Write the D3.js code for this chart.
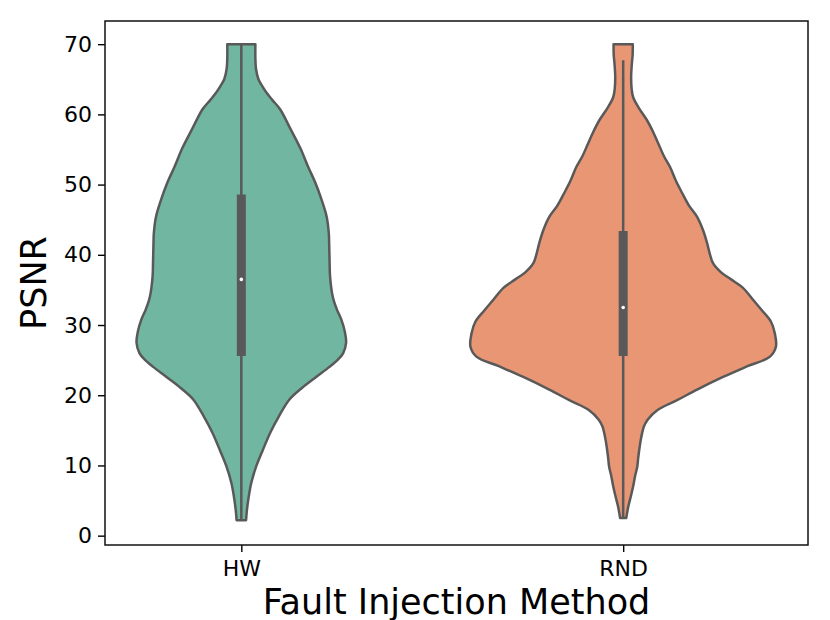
<!DOCTYPE html>
<html lang="en">
<head>
<meta charset="UTF-8">
<title>PSNR violin</title>
<script src="https://d3js.org/d3.v7.min.js"></script>
<style>
  body { margin: 0; background: #fff; }
  svg text { font-family: "DejaVu Sans", sans-serif; fill: #000; }
  .tick line { stroke: #000; stroke-width: 1.4; }
</style>
</head>
<body>
<div id="chart"></div>
<script>
// categories and colours
var methods = ["HW", "RND"];
var fills = ["#71b6a1", "#e99675"];
var yTicks = [0, 10, 20, 30, 40, 50, 60, 70];

// density outline (PSNR level, relative density)
var hwPsnr = [2.2, 3.5, 5.2, 7.5, 9.9, 12, 14.7, 17, 19.4, 21, 22.6, 24, 25.1, 26, 27.5, 29, 30.7, 32.2, 34, 36.9,
              39, 41.7, 43, 45.4, 48, 50.3, 52.5, 55.2, 58, 60.7, 62, 63, 64, 65, 66.5, 68, 70];
var hwDens = [3.1, 3.6, 4.6, 6.5, 9.8, 13.7, 19, 24.6, 31.5, 39.5, 49, 57.5, 63.4, 66.7, 68.6, 67.8, 65.6, 62.6, 59.9, 58.1,
              57.8, 57.5, 57.3, 55.9, 52.3, 48.4, 43.8, 38.6, 32, 25.5, 20.5, 16.8, 13.8, 11.2, 9.6, 9.2, 9.2];

var rndPsnr = [2.5, 4.1, 5.5, 7, 8.5, 9.8, 11, 12.2, 13.5, 14.6, 15.5, 16.5, 17.9, 19.3, 20.8, 22.6, 24.1, 25.5, 26.9, 28.8,
               30.5, 32.1, 33.6, 35.3, 36.5, 37.5, 38.8, 40, 41.7, 43.5, 45.4, 47, 48.8, 50.5, 52.5, 54, 55.9, 57.5, 59.2, 61,
               62.4, 63.5, 65.3, 67, 68.5, 70];
var rndDens = [2, 3.3, 4.9, 6.5, 7.8, 9.2, 9.8, 10.5, 11.4, 12.4, 13.5, 16, 22.5, 35.3, 48.4, 65.4, 81, 96.1, 100, 99.3,
               96.7, 90.8, 85, 78.4, 70.6, 64.1, 58.8, 56.9, 54.9, 52.3, 48.4, 43.1, 38.6, 34.6, 30.7, 26.8, 22.9, 19.6, 15.5, 10,
               6.6, 5.6, 5.2, 5.6, 6.2, 6.3];

// box plot stats: [whisker low, q1, median, q3, whisker high]
var hwBox = [2.2, 25.6, 36.5, 48.6, 70];
var rndBox = [2.5, 25.6, 32.5, 43.4, 67.7];

var width = 830, height = 620;
var margin = {top: 21, right: 22, bottom: 75, left: 105};
var plotW = width - margin.left - margin.right;
var plotH = height - margin.top - margin.bottom;

var svg = d3.select("#chart").append("svg")
    .attr("width", width)
    .attr("height", height);
var g = svg.append("g").attr("transform", "translate(" + margin.left + "," + margin.top + ")");

var x = d3.scaleLinear().domain([-0.357, 1.484]).range([0, plotW]);
var y = d3.scaleLinear().domain([-1.33, 73.3]).range([plotH, 0]);
var halfW = d3.scaleLinear().domain([0, 100]).range([0, 0.4]);

var violins = [
    {name: methods[0], pos: 0, psnr: hwPsnr, dens: hwDens, box: hwBox, fill: fills[0]},
    {name: methods[1], pos: 1, psnr: rndPsnr, dens: rndDens, box: rndBox, fill: fills[1]}
];

var lineColor = "#595959";

violins.forEach(function(v) {
    var pts = v.psnr.map(function(p, i) { return {p: p, d: v.dens[i]}; });
    var area = d3.area()
        .y(function(d) { return y(d.p); })
        .x0(function(d) { return x(v.pos - halfW(d.d)); })
        .x1(function(d) { return x(v.pos + halfW(d.d)); })
        .curve(d3.curveCatmullRom);

    g.append("path")
        .datum(pts)
        .attr("d", area)
        .attr("fill", v.fill)
        .attr("stroke", lineColor)
        .attr("stroke-width", 2.5)
        .attr("stroke-linejoin", "round");

    var cx = x(v.pos);
    // whisker
    g.append("line")
        .attr("x1", cx).attr("x2", cx)
        .attr("y1", y(v.box[0])).attr("y2", y(v.box[4]))
        .attr("stroke", lineColor)
        .attr("stroke-width", 2.5);
    // box
    g.append("line")
        .attr("x1", cx).attr("x2", cx)
        .attr("y1", y(v.box[1])).attr("y2", y(v.box[3]))
        .attr("stroke", lineColor)
        .attr("stroke-width", 9);
    // median
    g.append("circle")
        .attr("cx", cx).attr("cy", y(v.box[2]))
        .attr("r", 1.8)
        .attr("fill", "#fff");
});

// axes
var yAxis = g.append("g")
    .call(d3.axisLeft(y).tickValues(yTicks).tickSize(7).tickPadding(6));
yAxis.select(".domain").remove();
yAxis.selectAll("text").style("font-size", "22px");

var xAxis = g.append("g")
    .attr("transform", "translate(0," + plotH + ")")
    .call(d3.axisBottom(x).tickValues([0, 1]).tickFormat(function(d) { return methods[d]; })
        .tickSize(7).tickPadding(8));
xAxis.select(".domain").remove();
xAxis.selectAll("text").style("font-size", "22px");

// frame
g.append("rect")
    .attr("width", plotW).attr("height", plotH)
    .attr("fill", "none")
    .attr("stroke", "#111")
    .attr("stroke-width", 1.5);

// axis labels
svg.append("text")
    .attr("x", margin.left + plotW / 2)
    .attr("y", 614)
    .attr("text-anchor", "middle")
    .style("font-size", "35px")
    .text("Fault Injection Method");

svg.append("text")
    .attr("transform", "translate(46," + (margin.top + plotH / 2) + ") rotate(-90)")
    .attr("text-anchor", "middle")
    .style("font-size", "35px")
    .text("PSNR");
</script>
</body>
</html>
